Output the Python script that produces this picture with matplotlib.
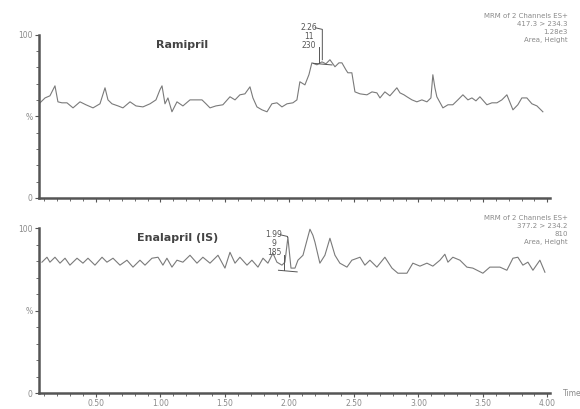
import matplotlib
matplotlib.use('Agg')
import matplotlib.pyplot as plt
from matplotlib.ticker import MultipleLocator, FixedLocator

# Ramipril trace (time in min, relative intensity %)
rami_t = [0.066, 0.105, 0.143, 0.182, 0.205, 0.236, 0.275, 0.322, 0.376, 0.422,
          0.477, 0.531, 0.570, 0.593, 0.624, 0.671, 0.709, 0.764, 0.810, 0.864,
          0.919, 0.965, 0.996, 1.012, 1.035, 1.058, 1.089, 1.128, 1.174, 1.229,
          1.275, 1.322, 1.353, 1.384, 1.430, 1.484, 1.539, 1.578, 1.616, 1.655,
          1.694, 1.717, 1.748, 1.787, 1.826, 1.864, 1.903, 1.942, 1.981, 2.027,
          2.058, 2.081, 2.120, 2.151, 2.174, 2.213, 2.252, 2.283, 2.314, 2.353,
          2.384, 2.407, 2.438, 2.453, 2.484, 2.508, 2.547, 2.601, 2.640, 2.678,
          2.702, 2.740, 2.779, 2.833, 2.857, 2.888, 2.911, 2.950, 2.988, 3.027,
          3.066, 3.097, 3.112, 3.128, 3.143, 3.190, 3.229, 3.267, 3.306, 3.345,
          3.384, 3.415, 3.446, 3.477, 3.531, 3.570, 3.609, 3.647, 3.686, 3.733,
          3.771, 3.802, 3.841, 3.880, 3.919, 3.965]
rami_y = [58.3, 61.3, 62.6, 68.7, 58.9, 58.3, 58.3, 55.2, 58.9, 57.1,
          55.2, 57.7, 67.5, 60.1, 57.7, 56.4, 55.2, 58.9, 56.4, 55.8,
          57.7, 60.1, 66.3, 68.7, 57.7, 61.3, 52.8, 58.9, 56.4, 60.1,
          60.1, 60.1, 57.7, 55.2, 56.4, 57.1, 62.0, 60.1, 63.2, 63.8,
          68.1, 61.3, 55.8, 54.0, 52.8, 57.7, 58.3, 55.8, 57.7, 58.3,
          60.1, 71.2, 69.3, 75.5, 82.8, 81.6, 83.4, 82.2, 84.7, 80.4,
          82.8, 82.8, 78.5, 76.7, 76.7, 65.0, 63.8, 63.2, 65.0, 64.4,
          61.3, 65.0, 62.6, 67.5, 64.4, 63.2, 62.0, 60.1, 58.9, 60.1,
          58.9, 61.3, 75.5, 67.5, 62.0, 55.2, 57.1, 57.1, 60.1, 63.2,
          60.1, 61.3, 59.5, 62.0, 57.1, 58.3, 58.3, 60.1, 63.2, 54.0,
          57.1, 61.3, 61.3, 57.7, 56.4, 52.8]

# Enalapril (IS) trace
enal_t = [0.081, 0.120, 0.143, 0.182, 0.221, 0.260, 0.298, 0.353, 0.399, 0.438,
          0.492, 0.547, 0.585, 0.632, 0.686, 0.740, 0.787, 0.841, 0.880, 0.934,
          0.981, 1.019, 1.050, 1.089, 1.128, 1.174, 1.229, 1.283, 1.329, 1.384,
          1.446, 1.500, 1.539, 1.578, 1.616, 1.671, 1.709, 1.756, 1.795, 1.833,
          1.872, 1.903, 1.942, 1.965, 1.988, 2.012, 2.043, 2.066, 2.105, 2.136,
          2.159, 2.182, 2.198, 2.236, 2.275, 2.314, 2.353, 2.391, 2.446, 2.484,
          2.547, 2.585, 2.624, 2.678, 2.740, 2.795, 2.841, 2.911, 2.957, 3.012,
          3.066, 3.112, 3.167, 3.205, 3.229, 3.267, 3.322, 3.376, 3.422, 3.500,
          3.554, 3.632, 3.686, 3.733, 3.771, 3.810, 3.849, 3.888, 3.942, 3.981]
enal_y = [79.4, 82.4, 79.4, 82.4, 78.8, 81.8, 77.6, 81.8, 78.8, 81.8,
          77.6, 82.4, 79.4, 81.8, 77.6, 80.6, 76.4, 80.6, 77.6, 81.8,
          82.4, 77.6, 81.8, 76.4, 80.6, 79.4, 83.6, 78.8, 82.4, 78.8,
          83.6, 75.8, 85.4, 78.8, 82.4, 77.6, 80.6, 76.4, 81.8, 78.8,
          84.8, 79.4, 77.6, 79.4, 94.5, 75.8, 75.8, 80.6, 83.6, 92.7,
          99.4, 95.7, 91.5, 78.8, 83.6, 93.9, 83.6, 78.8, 76.4, 80.6,
          82.4, 77.6, 80.6, 76.4, 82.4, 75.8, 72.7, 72.7, 78.8, 77.0,
          78.8, 77.0, 80.6, 84.2, 79.4, 82.4, 80.6, 76.4, 75.8, 72.7,
          76.4, 76.4, 74.5, 81.8, 82.4, 77.6, 79.4, 74.5, 80.6, 73.3]

# peak labels: retention time, scan, height
rami_peak = ("2.26", "11", "230")
enal_peak = ("1.99", "9", "185")
rami_info = ["MRM of 2 Channels ES+", "417.3 > 234.3", "1.28e3", "Area, Height"]
enal_info = ["MRM of 2 Channels ES+", "377.2 > 234.2", "810", "Area, Height"]

trace_col = '#7a7a7a'
axis_col = '#555555'
text_col = '#8a8a8a'

fig = plt.figure(figsize=(5.8, 4.09), dpi=100)
ax1 = fig.add_axes([0.0672, 0.516, 0.881, 0.399])
ax2 = fig.add_axes([0.0672, 0.039, 0.881, 0.403])


def style_axis(ax, show_labels):
    ax.set_xlim(0.058, 4.02)
    ax.set_ylim(0, 100)
    for s in ['top', 'right']:
        ax.spines[s].set_visible(False)
    for s in ['left', 'bottom']:
        ax.spines[s].set_color(axis_col)
        ax.spines[s].set_linewidth(1.8)
    ax.xaxis.set_major_locator(FixedLocator([0.5, 1.0, 1.5, 2.0, 2.5, 3.0, 3.5, 4.0]))
    ax.xaxis.set_minor_locator(MultipleLocator(0.1))
    ax.yaxis.set_major_locator(FixedLocator([0, 50, 100]))
    ax.yaxis.set_minor_locator(MultipleLocator(10))
    ax.tick_params(axis='both', which='major', length=3, width=0.8, color=axis_col,
                   labelsize=5.5, labelcolor=text_col, pad=1.5)
    ax.tick_params(axis='both', which='minor', length=2, width=0.6, color=axis_col)
    ax.set_yticklabels(['0', '%', '100'])
    if show_labels:
        ax.set_xticklabels(['0.50', '1.00', '1.50', '2.00', '2.50', '3.00', '3.50', '4.00'])
    else:
        ax.set_xticklabels([])


style_axis(ax1, False)
style_axis(ax2, True)

ax1.plot(rami_t, rami_y, color=trace_col, lw=0.8)
ax2.plot(enal_t, enal_y, color=trace_col, lw=0.8)

ax1.text(1.17, 93.5, "Ramipril", fontsize=8, fontweight='bold', color='#444444',
         ha='center', va='center')
ax2.text(1.13, 94, "Enalapril (IS)", fontsize=8, fontweight='bold', color='#444444',
         ha='center', va='center')

# info blocks in the top right corner of each panel
for ax, info, y0 in [(ax1, rami_info, 1.115), (ax2, enal_info, 1.065)]:
    for i, line in enumerate(info):
        ax.text(1.035, y0 - i * 0.05, line, transform=ax.transAxes, fontsize=5,
                color=text_col, ha='right', va='center', clip_on=False)

ax2.text(1.025, 0.0, "Time", transform=ax2.transAxes, fontsize=5.5, color=text_col,
         ha='left', va='center')


def peak_label(ax, labels, t_peak, h_peak, top, step, base):
    t_txt = t_peak - 0.11
    for i, s in enumerate(labels):
        ax.text(t_txt, top - i * step, s, fontsize=5.5, color='#555555',
                ha='center', va='center', clip_on=False)
    kw = dict(color='#555555', lw=0.7, clip_on=False)
    ax.plot([t_txt + 0.05, t_peak - 0.005, t_peak - 0.005],
            [top, top - 1, h_peak], **kw)
    ax.plot([t_peak - 0.03, t_peak - 0.03], [top - 2.2 * step, base], **kw)
    ax.plot([t_peak - 0.075, t_peak + 0.07], [base, base - 1], **kw)


peak_label(ax1, rami_peak, 2.26, 84.7, 104.3, 5.5, 82.5)
peak_label(ax2, enal_peak, 1.99, 94.5, 96.0, 5.5, 74.5)

plt.savefig('out.png', dpi=100)
plt.close(fig)
